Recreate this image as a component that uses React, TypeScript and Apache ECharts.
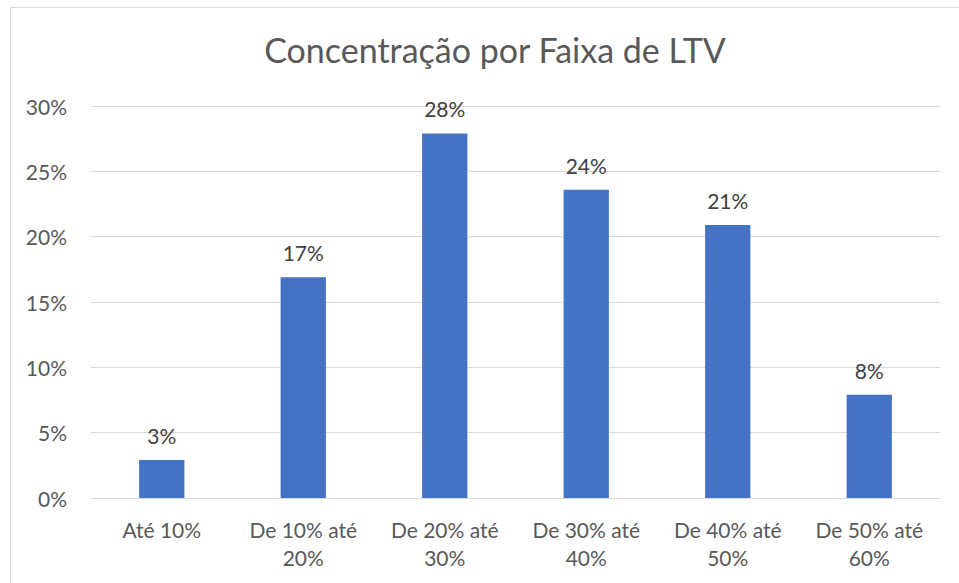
import React, { useEffect, useRef } from "react";
import * as echarts from "echarts";

const title = "Concentração por Faixa de LTV";
const categories = [
  "Até 10%",
  "De 10% até\n20%",
  "De 20% até\n30%",
  "De 30% até\n40%",
  "De 40% até\n50%",
  "De 50% até\n60%",
];
const values = [2.9, 16.9, 27.9, 23.6, 20.9, 7.9];
const yMin = 0;
const yMax = 30;
const yInterval = 5;

const FONT = "Lato, 'Open Sans', sans-serif";

export default function App() {
  const ref = useRef<HTMLDivElement>(null);
  useEffect(() => {
    if (!ref.current) return;
    const chart = echarts.init(ref.current, undefined, { renderer: "svg" });
    chart.setOption({
      animation: false,
      backgroundColor: "#ffffff",
      textStyle: { fontFamily: FONT },
      title: {
        text: title,
        left: 490,
        top: 27,
        textAlign: "center",
        textStyle: { fontFamily: FONT, fontSize: 34, fontWeight: "normal", color: "#595959" },
      },
      graphic: [
        {
          type: "rect",
          shape: { x: 10.5, y: 7.5, width: 1000, height: 1000 },
          style: { fill: "none", stroke: "#d9d9d9", lineWidth: 1 },
          silent: true,
        },
      ],
      grid: { left: 91, right: 19, top: 106, bottom: 85, containLabel: false },
      xAxis: {
        type: "category",
        data: categories,
        axisTick: { show: false },
        axisLine: { lineStyle: { color: "#d9d9d9", width: 1 } },
        axisLabel: {
          color: "#595959",
          fontSize: 21,
          fontFamily: FONT,
          lineHeight: 28,
          margin: 17,
          interval: 0,
        },
      },
      yAxis: {
        type: "value",
        min: yMin,
        max: yMax,
        interval: yInterval,
        axisLine: { show: false },
        axisTick: { show: false },
        splitLine: { lineStyle: { color: "#d9d9d9", width: 1 } },
        axisLabel: {
          formatter: "{value}%",
          color: "#595959",
          fontSize: 21,
          fontFamily: FONT,
          margin: 24,
        },
      },
      series: [
        {
          type: "bar",
          data: values,
          barWidth: "32%",
          itemStyle: { color: "#4472c4" },
          label: {
            show: true,
            position: "top",
            distance: 14,
            color: "#404040",
            fontSize: 21,
            fontFamily: FONT,
            formatter: (p: any) => Math.round(p.value) + "%",
          },
        },
      ],
    });
    return () => chart.dispose();
  }, []);
  return (
    <div
      ref={ref}
      style={{ position: "fixed", left: 0, top: 0, width: 959, height: 583 }}
    />
  );
}
